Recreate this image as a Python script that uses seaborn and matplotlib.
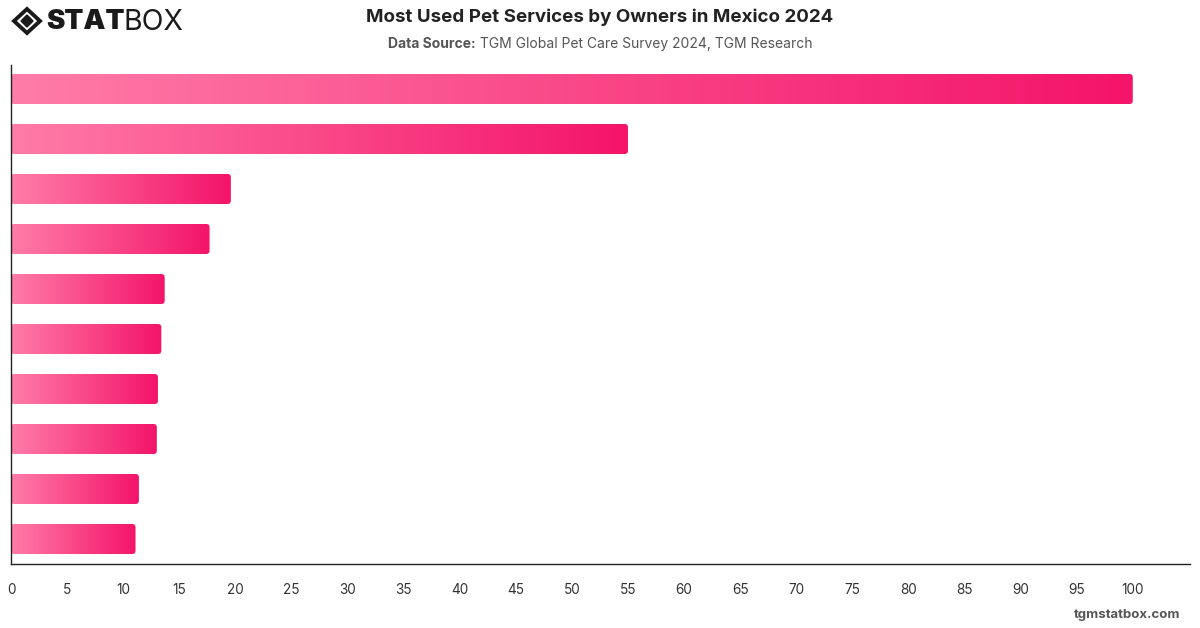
import matplotlib
matplotlib.use("Agg")
import matplotlib.pyplot as plt
import seaborn as sns
import numpy as np
import pandas as pd
from matplotlib.patches import FancyBboxPatch, Polygon
from matplotlib.colors import LinearSegmentedColormap

# data (category names are not printed in the reference)
services = ["Veterinary care", "Pet grooming", "Pet food delivery", "Pet insurance",
            "Pet boarding", "Pet training", "Dog walking", "Pet sitting",
            "Pet daycare", "Pet taxi"]
shares = [100, 55, 19.6, 17.7, 13.7, 13.4, 13.1, 13.0, 11.4, 11.1]

TITLE = "Most Used Pet Services by Owners in Mexico 2024"
SOURCE_BOLD = "Data Source:"
SOURCE_TEXT = " TGM Global Pet Care Survey 2024, TGM Research"
xticks = list(range(0, 101, 5))

df = pd.DataFrame({"service": services, "share": shares})

sns.set_style("white")
plt.rcParams["font.family"] = ["Inter", "DejaVu Sans"]

fig = plt.figure(figsize=(12, 6.28), dpi=100)
ax = fig.add_axes([11 / 1200, 1 - 564 / 628, (1190 - 11) / 1200, (564 - 65) / 628])

sns.barplot(data=df, x="share", y="service", orient="h", ax=ax, width=0.6,
            color="#ff6f9f", saturation=1)

cmap = LinearSegmentedColormap.from_list("pink", ["#ff7ca8", "#f4146a"])
grad = np.linspace(0, 1, 256).reshape(1, -1)
for bar in list(ax.patches):
    x0, y0 = bar.get_x(), bar.get_y()
    w, h = bar.get_width(), bar.get_height()
    bar.set_visible(False)
    clip = FancyBboxPatch((x0, y0), w, h, boxstyle="round,pad=0,rounding_size=0.3",
                          mutation_aspect=0.22, transform=ax.transData,
                          facecolor="none", edgecolor="none")
    ax.add_patch(clip)
    im = ax.imshow(grad, cmap=cmap, extent=(x0, x0 + w, y0 + h, y0),
                   aspect="auto", interpolation="bicubic", zorder=2)
    im.set_clip_path(clip)

ax.set_xlim(0, 105.1)
ax.set_ylim(9.5, -0.48)
ax.set_xticks(xticks)
ax.set_xticklabels([str(t) for t in xticks], fontsize=9.8, color="#333333")
ax.tick_params(axis="x", length=0, pad=14)
ax.set_yticks([])
ax.set_xlabel("")
ax.set_ylabel("")
for side in ["top", "right"]:
    ax.spines[side].set_visible(False)
for side in ["left", "bottom"]:
    ax.spines[side].set_color("#222222")
    ax.spines[side].set_linewidth(1.0)

# title and source line
fig.text(0.5, 1 - 17 / 628, TITLE, ha="center", va="center",
         fontsize=13.5, fontweight="bold", color="#222222")
fig.canvas.draw()
r = fig.canvas.get_renderer()
t1 = fig.text(0, 1 - 44 / 628, SOURCE_BOLD, ha="left", va="center",
              fontsize=10, fontweight="bold", color="#555555")
t2 = fig.text(0, 1 - 44 / 628, SOURCE_TEXT, ha="left", va="center",
              fontsize=10, color="#555555")
w1 = t1.get_window_extent(r).width
w2 = t2.get_window_extent(r).width
start = 600 - (w1 + w2) / 2
t1.set_x(start / 1200)
t2.set_x((start + w1) / 1200)

# logo
def px(x, y):
    return (x / 1200, 1 - y / 628)

outer = [px(27, 9), px(40, 21), px(27, 33), px(14, 21)]
inner = [px(27, 15), px(33, 21), px(27, 27), px(21, 21)]
fig.add_artist(Polygon(outer, closed=True, fill=False, edgecolor="#1a1a1a",
                       linewidth=2.8, transform=fig.transFigure))
fig.add_artist(Polygon(inner, closed=True, facecolor="#1a1a1a",
                       edgecolor="#1a1a1a", transform=fig.transFigure))
ts = fig.text(46 / 1200, 1 - 22 / 628, "STAT", ha="left", va="center",
              fontsize=20, fontweight="black", color="#1a1a1a")
fig.canvas.draw()
ws = ts.get_window_extent(r).width
fig.text((45 + ws) / 1200, 1 - 22 / 628, "BOX", ha="left", va="center",
         fontsize=20.5, color="#1a1a1a",
         family=["Liberation Sans Narrow", "Inter", "DejaVu Sans"])

fig.text(1180 / 1200, 1 - 615 / 628, "tgmstatbox.com", ha="right", va="center",
         fontsize=9.5, fontweight="bold", color="#555555")

fig.savefig("out.png", dpi=100)
